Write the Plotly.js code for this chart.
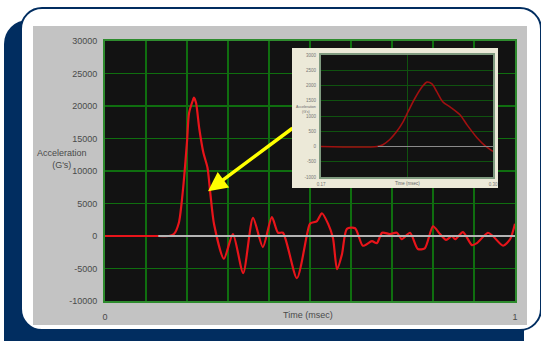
<!DOCTYPE html>
<html>
<head>
<meta charset="utf-8">
<script src="https://cdn.plot.ly/plotly-3.0.1.min.js"></script>
<style>
  html, body { margin: 0; padding: 0; background: #ffffff; }
  #stage { position: relative; width: 541px; height: 341px; overflow: hidden; background: #ffffff; }
  #navy { position: absolute; left: 4px; top: 20px; width: 520px; height: 345px; background: #012d60; border-radius: 24px; }
  #panel { position: absolute; left: 20px; top: 7px; width: 518px; height: 320px; background: #ffffff; border: 2px solid #012d60; border-radius: 22px; }
  #gray { position: absolute; left: 33px; top: 26px; width: 494px; height: 299px; background: #c3c3c3; }
  #main { position: absolute; left: 0; top: 0; width: 541px; height: 341px; }
  #inset { position: absolute; left: 292px; top: 48px; width: 206px; height: 140px; }
</style>
</head>
<body>
<div id="stage">
  <div id="navy"></div>
  <div id="panel"></div>
  <div id="gray"></div>
  <div id="main"></div>
  <div id="inset"></div>
</div>
<script>
// ---- Main chart data ----
const timeMain = [0, 0.13, 0.155, 0.168, 0.18, 0.19, 0.2, 0.205, 0.215, 0.217, 0.222, 0.23, 0.24, 0.25, 0.257, 0.266,
  0.29, 0.312, 0.337, 0.361, 0.385, 0.407, 0.422, 0.434, 0.468, 0.493, 0.5, 0.517, 0.529, 0.544, 0.556, 0.566,
  0.578, 0.59, 0.61, 0.629, 0.651, 0.663, 0.676, 0.695, 0.712, 0.724, 0.744, 0.763, 0.78, 0.8, 0.817, 0.832,
  0.846, 0.854, 0.873, 0.895, 0.907, 0.934, 0.946, 0.971, 0.988, 1.0];
const accelMain = [0, 0, 0, 300, 2000, 7000, 14500, 18900, 21000, 21300, 20500, 16500, 12800, 10500, 6500, 1800,
  -3500, 300, -5700, 2800, -1700, 2900, 500, 500, -6500, 300, 1900, 2300, 3500, 1900, -300, -5100,
  -2800, 1100, 1200, -1500, -800, -1100, 500, 300, 500, -500, 500, -2000, -1900, 1500, 300, -600,
  0, -500, 600, -1400, -1100, 500, 0, -1500, -500, 1900];
const baseTimeMain = [0.13, 1.0];
const baseAccelMain = [0, 0];

const xTickVals = [0, 0.1, 0.2, 0.3, 0.4, 0.5, 0.6, 0.7, 0.8, 0.9, 1];
const xTickText = ['0', '', '', '', '', '', '', '', '', '', '1'];
const yTickVals = [-10000, -5000, 0, 5000, 10000, 15000, 20000, 25000, 30000];
const yTickText = ['-10000', '-5000', '0', '5000', '10000', '15000', '20000', '25000', '30000'];

// ---- Inset chart data ----
const timeInset = [0, 0.326, 0.36, 0.40, 0.44, 0.477, 0.506, 0.547, 0.587, 0.616, 0.645, 0.674, 0.709, 0.75,
  0.808, 0.849, 0.907, 0.953, 1.0];
const accelInset = [0, 0, 60, 230, 490, 810, 1140, 1590, 1950, 2110, 2050, 1790, 1460, 1300,
  1040, 710, 290, 30, -160];
const baseTimeInset = [0.33, 1.0];
const baseAccelInset = [0, 0];
const insetXTickVals = [0, 0.5, 1];
const insetXTickText = ['0.17', '', '0.30'];
const insetYTickVals = [-1000, -500, 0, 500, 1000, 1500, 2000, 2500, 3000];
const insetYTickText = ['-1000', '-500', '0', '500', '1000', '1500', '2000', '2500', '3000'];

const FONT = 'Liberation Sans Narrow, Liberation Sans, Arial, sans-serif';
const TXT = '#4a4a4a';

// ---- Main plot ----
Plotly.newPlot('main', [
  { x: timeMain, y: accelMain, type: 'scatter', mode: 'lines',
    line: { color: '#e8141a', width: 2.2, shape: 'spline', smoothing: 0.7 }, hoverinfo: 'skip' },
  { x: baseTimeMain, y: baseAccelMain, type: 'scatter', mode: 'lines',
    line: { color: '#b4b4b4', width: 2 }, hoverinfo: 'skip' }
], {
  width: 541, height: 341,
  margin: { l: 105, r: 26, t: 41, b: 40, pad: 0 },
  paper_bgcolor: 'rgba(0,0,0,0)',
  plot_bgcolor: '#121212',
  showlegend: false,
  font: { family: FONT, color: TXT, size: 9 },
  xaxis: {
    range: [0, 1], tickmode: 'array', tickvals: xTickVals, ticktext: xTickText,
    showgrid: true, gridcolor: '#0f6e0f', gridwidth: 1.5, zeroline: false,
    showline: true, mirror: true, linecolor: '#2e8b2e', linewidth: 2,
    ticks: '', ticklabelstandoff: 6, tickfont: { family: FONT, size: 9, color: TXT }, fixedrange: true
  },
  yaxis: {
    range: [-10000, 30000], tickmode: 'array', tickvals: yTickVals, ticktext: yTickText,
    showgrid: true, gridcolor: '#0f6e0f', gridwidth: 1.5, zeroline: false,
    showline: true, mirror: true, linecolor: '#2e8b2e', linewidth: 2,
    ticks: '', ticklabelstandoff: 4, tickfont: { family: FONT, size: 9, color: TXT }, fixedrange: true
  },
  annotations: [
    { text: 'Acceleration<br>(G\'s)', xref: 'paper', yref: 'paper', x: -0.105, y: 0.546,
      xanchor: 'center', yanchor: 'middle', showarrow: false, align: 'center',
      font: { family: FONT, size: 9, color: TXT } },
    { text: 'Time (msec)', xref: 'paper', yref: 'paper', x: 0.495, y: -0.054,
      xanchor: 'center', yanchor: 'middle', showarrow: false,
      font: { family: FONT, size: 9, color: TXT } },
    { text: '', x: 0.2512, y: 6900, xref: 'x', yref: 'y', showarrow: true,
      ax: 86, ay: -64, arrowhead: 2, arrowsize: 1.1, arrowwidth: 3.5, arrowcolor: '#ffff00' }
  ]
}, { staticPlot: true });

// ---- Inset plot ----
Plotly.newPlot('inset', [
  { x: timeInset, y: accelInset, type: 'scatter', mode: 'lines',
    line: { color: '#a01010', width: 1.6, shape: 'spline', smoothing: 0.8 }, hoverinfo: 'skip' },
  { x: baseTimeInset, y: baseAccelInset, type: 'scatter', mode: 'lines',
    line: { color: '#8a8a8a', width: 1 }, hoverinfo: 'skip' }
], {
  width: 206, height: 140,
  margin: { l: 29, r: 5, t: 7, b: 11, pad: 0 },
  paper_bgcolor: '#ece9d8',
  plot_bgcolor: '#121212',
  showlegend: false,
  font: { family: FONT, color: '#777', size: 4.5 },
  xaxis: {
    range: [0, 1], tickmode: 'array', tickvals: insetXTickVals, ticktext: insetXTickText,
    showgrid: true, gridcolor: '#0f520f', gridwidth: 1, zeroline: false,
    showline: true, mirror: true, linecolor: '#7f9a7f', linewidth: 2,
    ticks: '', ticklabelstandoff: 2, tickfont: { family: FONT, size: 4.5, color: '#777' }, fixedrange: true
  },
  yaxis: {
    range: [-1000, 3000], tickmode: 'array', tickvals: insetYTickVals, ticktext: insetYTickText,
    showgrid: true, gridcolor: '#0f520f', gridwidth: 1, zeroline: false,
    showline: true, mirror: true, linecolor: '#7f9a7f', linewidth: 2,
    ticks: '', ticklabelstandoff: 2, tickfont: { family: FONT, size: 4.5, color: '#777' }, fixedrange: true
  },
  annotations: [
    { text: 'Acceleration<br>(G\'s)', xref: 'paper', yref: 'paper', x: -0.158, y: 0.556,
      xanchor: 'left', yanchor: 'middle', showarrow: false, align: 'center',
      font: { family: FONT, size: 3.6, color: '#666' } },
    { text: 'Time (msec)', xref: 'paper', yref: 'paper', x: 0.5, y: -0.05,
      xanchor: 'center', yanchor: 'middle', showarrow: false,
      font: { family: FONT, size: 4.5, color: '#666' } }
  ]
}, { staticPlot: true });
</script>
</body>
</html>
